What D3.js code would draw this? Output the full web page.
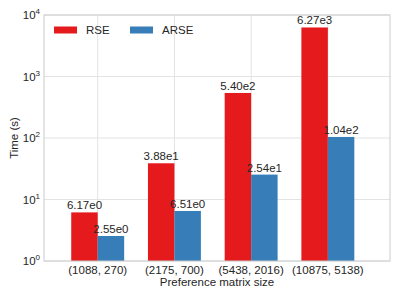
<!DOCTYPE html>
<html>
<head>
<meta charset="utf-8">
<script src="https://cdn.jsdelivr.net/npm/d3@7"></script>
<style>
body { margin: 0; background: #fff; }
text { font-family: "Liberation Sans", Arial, sans-serif; fill: #262626; }
</style>
</head>
<body>
<script>
var categories = ["(1088, 270)", "(2175, 700)", "(5438, 2016)", "(10875, 5138)"];
var rseValues = [6.17, 38.8, 540, 6270];
var arseValues = [2.55, 6.51, 25.4, 104];
var rseLabels = ["6.17e0", "3.88e1", "5.40e2", "6.27e3"];
var arseLabels = ["2.55e0", "6.51e0", "2.54e1", "1.04e2"];
var yTicks = [1, 10, 100, 1000, 10000];
var series = [
    { name: "RSE", color: "#e41a1c", values: rseValues, labels: rseLabels, offset: -1 },
    { name: "ARSE", color: "#377eb8", values: arseValues, labels: arseLabels, offset: 0 }];

var W = 399, H = 299;
var plotL = 44, plotR = 390, plotT = 15, plotB = 261;
var barW = 0.345;
var fs = 11.5;

var svg = d3.select('body').append('svg')
    .attr('width', W)
    .attr('height', H);

var x = d3.scaleLinear().domain([-0.7, 3.81]).range([plotL, plotR]);
var y = d3.scaleLog().domain([1, 10000]).range([plotB, plotT]);

// grid
svg.selectAll('line.hgrid').data(yTicks).enter().append('line')
    .attr('x1', plotL).attr('x2', plotR)
    .attr('y1', function (d) { return y(d); }).attr('y2', function (d) { return y(d); })
    .attr('stroke', '#e3e3e3').attr('stroke-width', 1);
svg.selectAll('line.vgrid').data(categories).enter().append('line')
    .attr('y1', plotT).attr('y2', plotB)
    .attr('x1', function (d, i) { return x(i); }).attr('x2', function (d, i) { return x(i); })
    .attr('stroke', '#e3e3e3').attr('stroke-width', 1);

// bars
series.forEach(function (s) {
    svg.selectAll(null).data(s.values).enter().append('rect')
        .attr('x', function (d, i) { return x(i + s.offset * barW); })
        .attr('width', x(barW) - x(0))
        .attr('y', function (d) { return y(d); })
        .attr('height', function (d) { return plotB - y(d); })
        .attr('fill', s.color);
    svg.selectAll(null).data(s.values).enter().append('text')
        .attr('x', function (d, i) { return x(i + s.offset * barW + barW / 2); })
        .attr('y', function (d) { return y(d) - 3; })
        .attr('text-anchor', 'middle')
        .attr('font-size', fs)
        .text(function (d, i) { return s.labels[i]; });
});

// frame
svg.append('rect').attr('x', plotL).attr('y', plotT)
    .attr('width', plotR - plotL).attr('height', plotB - plotT)
    .attr('fill', 'none').attr('stroke', '#cccccc').attr('stroke-width', 1);

// y tick labels
var yt = svg.selectAll('text.ytick').data(yTicks).enter().append('text')
    .attr('x', plotL - 4)
    .attr('y', function (d) { return y(d) + 4; })
    .attr('text-anchor', 'end')
    .attr('font-size', fs);
yt.append('tspan').text('10');
yt.append('tspan').attr('dy', -5).attr('font-size', 8)
    .text(function (d) { return Math.round(Math.log10(d)); });

// x tick labels
svg.selectAll('text.xtick').data(categories).enter().append('text')
    .attr('x', function (d, i) { return x(i); })
    .attr('y', plotB + 12.5)
    .attr('text-anchor', 'middle')
    .attr('font-size', fs)
    .text(function (d) { return d; });

svg.append('text').attr('x', (plotL + plotR) / 2).attr('y', 286)
    .attr('text-anchor', 'middle').attr('font-size', fs)
    .text('Preference matrix size');
svg.append('text').attr('transform', 'translate(18,' + ((plotT + plotB) / 2) + ') rotate(-90)')
    .attr('text-anchor', 'middle').attr('font-size', fs)
    .text('Time (s)');

// legend
series.forEach(function (s, i) {
    var lx = 54 + i * 76;
    svg.append('rect').attr('x', lx).attr('y', 26.5).attr('width', 23).attr('height', 7)
        .attr('fill', s.color);
    svg.append('text').attr('x', lx + 32).attr('y', 34).attr('font-size', fs).text(s.name);
});
</script>
</body>
</html>
